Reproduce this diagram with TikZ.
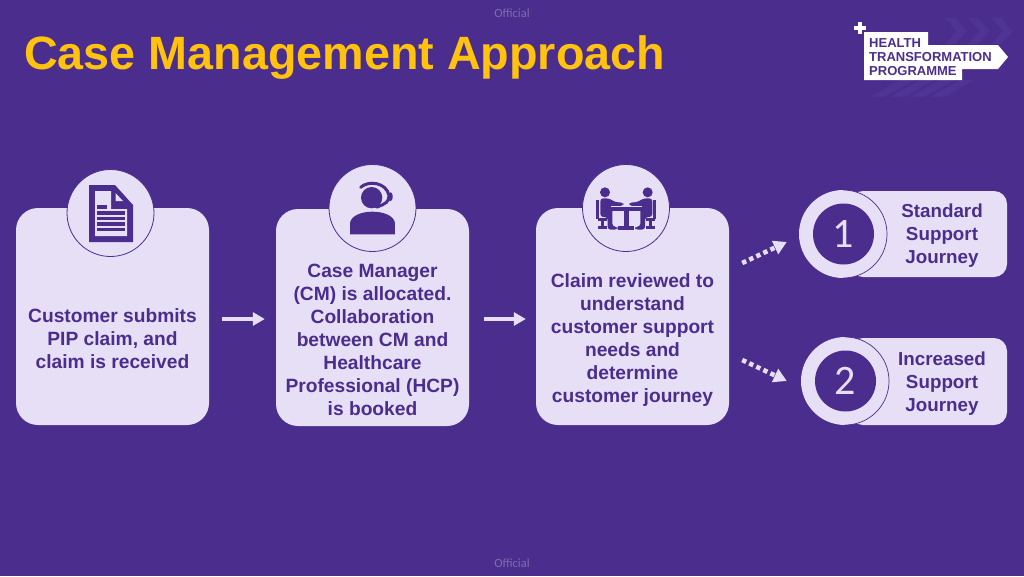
\documentclass[tikz,border=0pt]{standalone}
\usepackage{fontspec}
\setmainfont{Liberation Sans}
\newfontfamily\digitfont{Carlito}
\usetikzlibrary{arrows.meta}
\definecolor{bgp}{HTML}{4B2D8E}
\definecolor{pale}{HTML}{E6DFF6}
\definecolor{ink}{HTML}{4B2D8E}
\definecolor{gold}{HTML}{FFC20E}
\definecolor{ghost}{HTML}{503493}
\definecolor{off}{HTML}{7D6DAA}
\tikzset{
  card/.style={fill=pale,rounded corners=22pt,minimum width=193pt,minimum height=217pt,inner sep=0pt},
  cardtext/.style={text=ink,font=\bfseries\fontsize{19.2}{23}\selectfont,align=center,inner sep=0pt},
  tagtext/.style={text=ink,font=\bfseries\fontsize{18.8}{23}\selectfont,align=center,inner sep=0pt},
  badge/.style={circle,fill=pale,draw=ink,line width=.8pt,minimum size=87pt,inner sep=0pt},
  ring/.style={circle,fill=pale,minimum size=88pt,inner sep=0pt},
  disc/.style={circle,fill=ink,minimum size=61pt,inner sep=0pt,text=pale,font=\digitfont\fontsize{42}{42}\selectfont},
  tag/.style={fill=pale,rounded corners=13pt,inner sep=0pt},
  flow/.style={draw=pale,line width=4.2pt,-{Triangle[length=12pt,width=13pt]}},
  dotflow/.style={draw=pale,line width=4.6pt,dash pattern=on 4.4pt off 3.4pt,-{Triangle[length=13pt,width=14pt]}},
  stamp/.style={text=off,font=\digitfont\fontsize{12.5}{12.5}\selectfont,inner sep=0pt},
  icon/.style={fill=ink,draw=none},
  ghostfill/.style={fill=ghost,draw=none}
}
\begin{document}
\begin{tikzpicture}[x=1pt,y=-1pt]
\useasboundingbox (0,0) rectangle (1024,576);
\fill[bgp] (0,0) rectangle (1024,576);
\node[stamp] (offtop) at (512,13.5) {Official};
\node[stamp] (offbot) at (512,563.5) {Official};
\node[anchor=west,text=gold,font=\bfseries\fontsize{46.7}{50}\selectfont,inner sep=0pt] (title) at (24,58) {Case Management Approach};
% logo ghost chevrons
\foreach \x in {945,968,991}{
  \fill[ghostfill] (\x,18) -- (\x+10,18) -- (\x+22,31) -- (\x+10,44) -- (\x,44) -- (\x+12,31) -- cycle;
}
\foreach \x in {870,890,910,930}{
  \fill[ghostfill] (\x,97) -- (\x+14,97) -- (\x+44,80) -- (\x+30,80) -- cycle;
}
% logo
\fill[white] (864,32) -- (928,32) -- (928,45) -- (998,45) -- (1008,57) -- (998,69) -- (962,69) -- (962,80) -- (864,80) -- cycle;
\fill[white] (858,22) rectangle (862,34);
\fill[white] (854,26) rectangle (866,30);
\node[anchor=west,inner sep=0pt,text=ink,font=\bfseries\fontsize{13}{14.4}\selectfont,align=left] (logo) at (869,57) {HEALTH\\TRANSFORMATION\\PROGRAMME};
% cards
\node[card] (box1) at (112.5,316.5) {};
\node[card] (box2) at (372.5,317.5) {};
\node[card] (box3) at (632.5,316.5) {};
\node[cardtext] (t1) at (112.5,339) {Customer submits\\PIP claim, and\\claim is received};
\node[cardtext] (t2) at (372.5,339.5) {Case Manager\\(CM) is allocated.\\Collaboration\\between CM and\\Healthcare\\Professional (HCP)\\is booked};
\node[cardtext] (t3) at (632.5,340.5) {Claim reviewed to\\understand\\customer support\\needs and\\determine\\customer journey};
% badges
\node[badge] (c1) at (110.5,213) {};
\node[badge] (c2) at (372.5,208) {};
\node[badge] (c3) at (626,208) {};
% document icon
\fill[icon] (89,185) -- (115,185) -- (133,205) -- (133,242) -- (89,242) -- cycle;
\fill[pale] (95,191) -- (111,191) -- (111,209) -- (127,209) -- (127,236) -- (95,236) -- cycle;
\fill[pale] (115.5,193) -- (123,201) -- (115.5,201) -- cycle;
\fill[icon] (97,205) rectangle (107,208.5);
\foreach \y in {211,216.5,222,227.5}{\fill[icon] (97,\y) rectangle (125,\y+3.5);}
% headset icon
\begin{scope}[shift={(320,155)},x=.3333pt,y=-.3333pt]
\fill[icon] (155,128) circle (32);
\fill[icon] (90,238) -- (90,205) .. controls (92,182) and (125,170) .. (157,170) .. controls (190,170) and (223,182) .. (225,205) -- (225,238) -- cycle;
\draw[ink,line width=3pt,line cap=round] (122,97) .. controls (145,75) and (200,82) .. (207,122) .. controls (208,140) and (195,148) .. (172,155);
\fill[icon,rounded corners=3pt] (205,112) rectangle (218,138);
\fill[icon,rounded corners=2pt] (164,150) rectangle (180,160);
\end{scope}
% meeting icon
\begin{scope}[shift={(575,155)},x=.3333pt,y=-.3333pt]
\fill[icon] (90,112) circle (15);
\fill[icon] (218,112) circle (15);
\fill[icon,rounded corners=3pt] (76,130) -- (102,130) -- (122,142) -- (145,142) -- (145,153) -- (112,153) -- (112,215) -- (128,215) -- (128,224) -- (98,224) -- (98,186) -- (76,186) -- cycle;
\fill[icon,rounded corners=3pt] (232,130) -- (206,130) -- (186,142) -- (163,142) -- (163,153) -- (196,153) -- (196,215) -- (180,215) -- (180,224) -- (210,224) -- (210,186) -- (232,186) -- cycle;
\fill[icon] (64,136) rectangle (73,192);
\fill[icon] (235,136) rectangle (244,192);
\fill[icon] (68,190) rectangle (96,199);
\fill[icon] (212,190) rectangle (240,199);
\fill[icon] (77,199) rectangle (87,214);
\fill[icon] (221,199) rectangle (231,214);
\fill[icon] (68,212) rectangle (96,222);
\fill[icon] (212,212) rectangle (240,222);
\fill[pale] (108,154) rectangle (200,157);
\fill[icon] (108,157) rectangle (200,167);
\fill[icon] (146,167) rectangle (162,214);
\fill[icon] (130,214) rectangle (178,224);
\end{scope}
% journey tags
\node[tag,minimum width=157pt,minimum height=86pt] (tag1) at (928.5,234) {};
\node[tag,minimum width=157pt,minimum height=87pt] (tag2) at (928.5,381.5) {};
\node[ring] (r1) at (843,234) {};
\node[ring] (r2) at (845,381) {};
\draw[ink,line width=.7pt] (843,190) arc (-90:90:44);
\draw[ink,line width=.7pt] (845,337) arc (-90:90:44);
\node[disc] (d1) at (843.5,234) {1};
\node[disc] (d2) at (845.5,381) {2};
\node[tagtext] (j1) at (942,236) {Standard\\Support\\Journey};
\node[tagtext] (j2) at (942,384) {Increased\\Support\\Journey};
% connectors
\draw[flow,shorten <=13pt,shorten >=11pt] ([shift={(0,2.5)}]box1.east) -- ([shift={(0,1.5)}]box2.west);
\draw[flow,shorten <=15pt,shorten >=10pt] ([shift={(0,1.5)}]box2.east) -- ([shift={(0,2.5)}]box3.west);
\draw[dotflow] ([shift={(13,-53.5)}]box3.east) -- ([shift={(-12,8)}]r1.west);
\draw[dotflow] ([shift={(13,43.5)}]box3.east) -- ([shift={(-14,0)}]r2.west);
\end{tikzpicture}
\end{document}
